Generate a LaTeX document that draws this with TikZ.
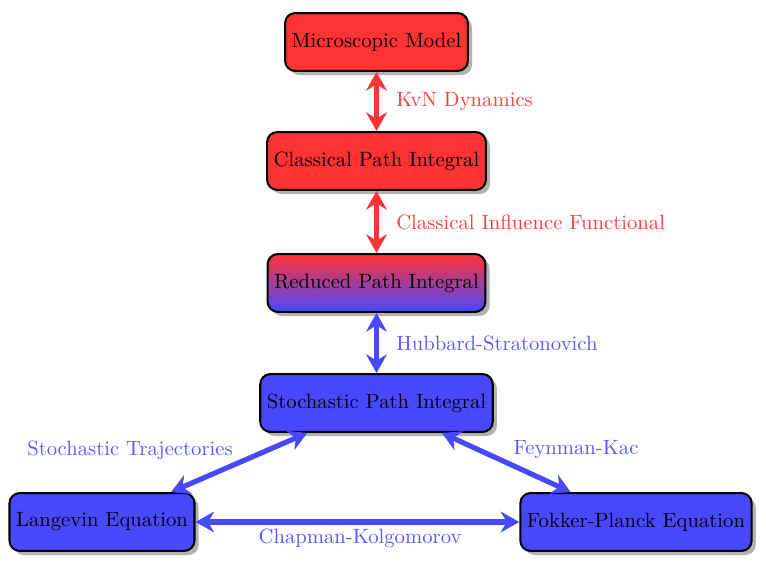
\documentclass[tikz,border=0pt]{standalone}
\usetikzlibrary{arrows.meta,shadows,positioning}
\definecolor{boxred}{RGB}{255,51,51}
\definecolor{boxblue}{RGB}{72,72,255}
\definecolor{labred}{RGB}{255,62,62}
\definecolor{labblue}{RGB}{88,88,255}
\tikzset{
  stage/.style={draw=black, line width=1pt, rounded corners=5pt,
    minimum height=28pt, inner xsep=3.2pt,
    drop shadow={shadow xshift=2pt, shadow yshift=-2pt, fill=black, opacity=0.3}},
  redstage/.style={stage, fill=boxred},
  bluestage/.style={stage, fill=boxblue},
  mixstage/.style={stage, top color=boxred, bottom color=boxblue},
  link/.style={line width=2.5pt, {Stealth[length=9pt,width=10pt,inset=3pt]}-{Stealth[length=9pt,width=10pt,inset=3pt]}},
  redlink/.style={link, color=boxred},
  bluelink/.style={link, color=boxblue},
  redlabel/.style={text=labred},
  bluelabel/.style={text=labblue},
}
\begin{document}
\begin{tikzpicture}[x=0.017cm, y=-0.017cm]
  \useasboundingbox (0,0) rectangle (766,568);

  % stages of the derivation
  \node[redstage]  (micro)   at (376.5,42)  {Microscopic Model};
  \node[redstage]  (cpi)     at (376.5,161) {Classical Path Integral};
  \node[mixstage]  (rpi)     at (376.5,283) {Reduced Path Integral};
  \node[bluestage] (spi)     at (376.5,403) {Stochastic Path Integral};
  \node[bluestage] (lang)    at (102,522) {Langevin Equation};
  \node[bluestage] (fp)      at (636,522) {Fokker-Planck Equation};

  % connections
  \draw[redlink]  (micro) -- (cpi);
  \draw[redlink]  (cpi)   -- (rpi);
  \draw[bluelink] (rpi)   -- (spi);
  \draw[bluelink] (spi)   -- (lang);
  \draw[bluelink] (spi)   -- (fp);
  \draw[bluelink] (lang)  -- (fp);

  % connection labels
  \node[redlabel, anchor=west]  (l1) at (389,102) {KvN Dynamics};
  \node[redlabel, anchor=west]  (l2) at (389,222) {Classical Influence Functional};
  \node[bluelabel, anchor=west] (l3) at (389,343) {Hubbard-Stratonovich};
  \node[bluelabel] (l4) at (130,450) {Stochastic Trajectories};
  \node[bluelabel] (l5) at (576,450) {Feynman-Kac};
  \node[bluelabel] (l6) at (360,538) {Chapman-Kolgomorov};
\end{tikzpicture}
\end{document}
